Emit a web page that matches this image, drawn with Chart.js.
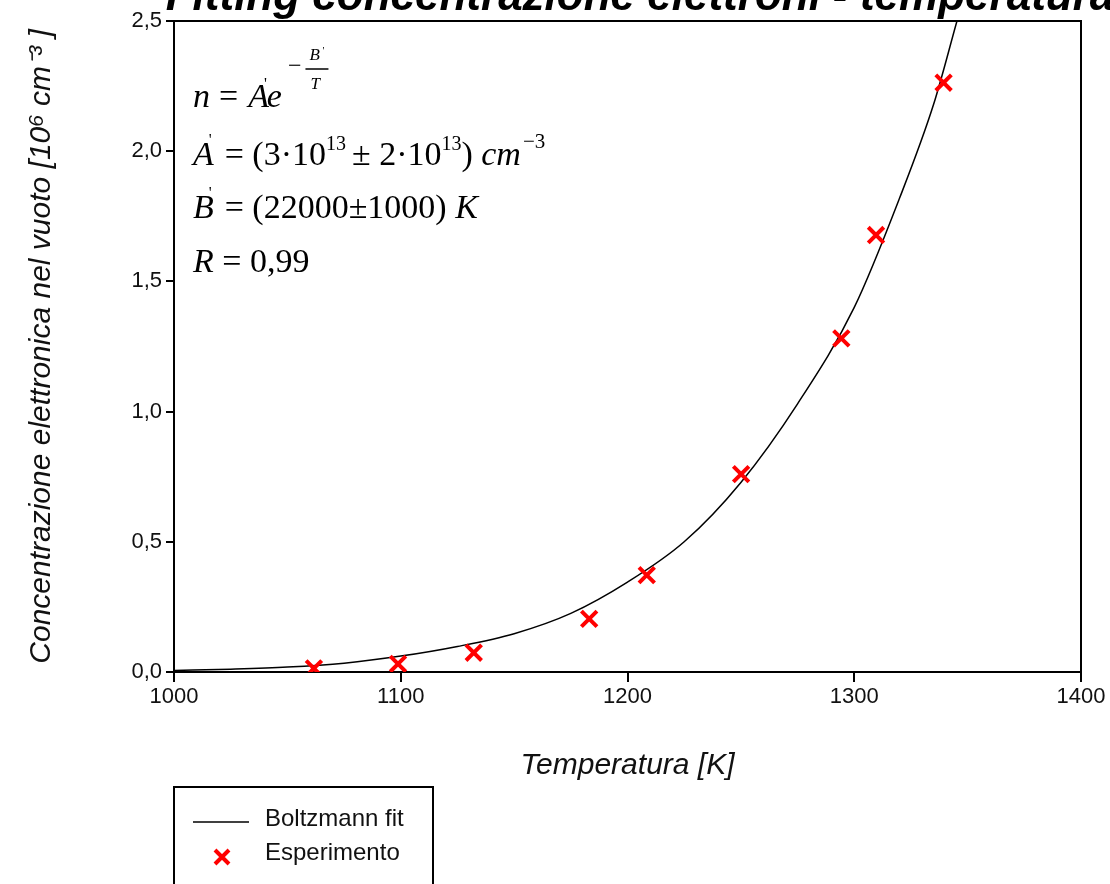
<!DOCTYPE html>
<html>
<head>
<meta charset="utf-8">
<script src="https://cdn.jsdelivr.net/npm/chart.js@4.4.1/dist/chart.umd.min.js"></script>
<style>
  html, body { margin: 0; padding: 0; background: #fff; overflow: hidden; }
  #wrap { width: 1110px; height: 884px; position: relative; }
</style>
</head>
<body>
<div id="wrap"><canvas id="chart" width="1110" height="884"></canvas></div>
<script>
const xTicks = [1000, 1100, 1200, 1300, 1400];
const yTicks = [0, 0.5, 1.0, 1.5, 2.0, 2.5];

// punti sperimentali: T [K], n [10^6 cm^-3]
const expT = [1061.7, 1098.8, 1132.2, 1183.1, 1208.5, 1250.1, 1294.3, 1309.6, 1339.4];
const expN = [0.014, 0.031, 0.074, 0.204, 0.372, 0.760, 1.281, 1.678, 2.263];

// curva di fit
const fitT = [1000, 1025, 1050, 1075, 1100, 1125, 1150, 1175, 1200, 1225, 1250, 1275, 1300, 1320, 1335, 1345.3];
const fitN = [0.006, 0.011, 0.019, 0.034, 0.061, 0.098, 0.147, 0.225, 0.345, 0.50, 0.728, 1.03, 1.40, 1.82, 2.18, 2.5];

const chartTitle = 'Fitting concentrazione elettroni - temperatura';
const xTitle = 'Temperatura [K]';
const yTitle = 'Concentrazione elettronica nel vuoto [10\u2076 cm\u207B\u00B3 ]';

const SANS = '"Liberation Sans", Arial, sans-serif';
const SERIF = '"Liberation Serif", "Times New Roman", serif';

function runs(c, x, y, list) {
    for (const r of list) {
        c.font = (r.i ? 'italic ' : '') + (r.s || 34) + 'px ' + SERIF;
        c.fillText(r.t, x, y + (r.dy || 0));
        x += c.measureText(r.t).width + (r.gap || 0);
    }
    return x;
}

const frame = {
    id: 'frame',
    afterDraw(chart) {
        const c = chart.ctx;
        const a = chart.chartArea;
        c.save();
        c.strokeStyle = '#000';
        c.lineWidth = 2;
        c.beginPath();
        c.moveTo(a.left, a.top);
        c.lineTo(a.right, a.top);
        c.lineTo(a.right, a.bottom);
        c.stroke();

        // titolo (tagliato in alto)
        c.fillStyle = '#000';
        c.font = 'italic bold 44px ' + SANS;
        c.textAlign = 'center';
        c.textBaseline = 'alphabetic';
        c.fillText(chartTitle, 640, 10);

        // formule
        c.textAlign = 'left';
        let x = 193, y = 107;
        x = runs(c, x, y, [{t: 'n', i: 1, gap: 9}, {t: '=', gap: 10}, {t: 'A', i: 1}]);
        x = runs(c, x - 5, y, [{t: '\'', s: 16, dy: -18}]);
        x = runs(c, x, y, [{t: 'e', i: 1}]);
        x = runs(c, x + 6, y, [{t: '\u2212', s: 24, dy: -34}]);
        c.font = 'italic 17px ' + SERIF;
        c.fillText('B', x + 8, y - 47);
        c.font = '11px ' + SERIF;
        c.fillText('\'', x + 21, y - 53);
        c.font = 'italic 17px ' + SERIF;
        c.fillText('T', x + 9, y - 18);
        c.lineWidth = 1.5;
        c.beginPath();
        c.moveTo(x + 4, y - 38);
        c.lineTo(x + 27, y - 38);
        c.stroke();

        y = 165; x = 193;
        x = runs(c, x, y, [{t: 'A', i: 1}]);
        x = runs(c, x - 5, y, [{t: '\'', s: 16, dy: -20}]);
        x = runs(c, x + 13, y, [{t: '= (3\u00B710'}]);
        x = runs(c, x, y, [{t: '13', s: 20, dy: -15}]);
        x = runs(c, x + 6, y, [{t: '\u00B1 2\u00B710'}]);
        x = runs(c, x, y, [{t: '13', s: 20, dy: -15}]);
        x = runs(c, x, y, [{t: ') '}, {t: 'cm', i: 1}]);
        runs(c, x + 2, y, [{t: '\u22123', s: 21, dy: -17}]);

        y = 218; x = 193;
        x = runs(c, x, y, [{t: 'B', i: 1}]);
        x = runs(c, x - 5, y, [{t: '\'', s: 16, dy: -20}]);
        runs(c, x + 13, y, [{t: '= (22000\u00B11000) '}, {t: 'K', i: 1}]);

        y = 272; x = 193;
        runs(c, x, y, [{t: 'R', i: 1}, {t: ' = 0,99'}]);

        // legenda
        c.strokeStyle = '#000';
        c.lineWidth = 2;
        c.strokeRect(174, 787, 259, 130);
        const ds = chart.data.datasets;
        c.lineWidth = 1.5;
        c.beginPath();
        c.moveTo(193, 822);
        c.lineTo(249, 822);
        c.stroke();
        c.strokeStyle = '#f00';
        c.lineWidth = 4;
        c.beginPath();
        c.moveTo(215, 850); c.lineTo(229, 864);
        c.moveTo(229, 850); c.lineTo(215, 864);
        c.stroke();
        c.fillStyle = '#111';
        c.font = '24px ' + SANS;
        c.textBaseline = 'middle';
        c.fillText(ds[0].label, 265, 819);
        c.fillText(ds[1].label, 265, 853);
        c.restore();
    }
};

const tickFont = {family: SANS, size: 22};

new Chart(document.getElementById('chart'), {
    type: 'scatter',
    data: {
        datasets: [{
            label: 'Boltzmann fit',
            data: fitT.map((t, i) => ({x: t, y: fitN[i]})),
            showLine: true,
            borderColor: '#000',
            borderWidth: 1.5,
            pointRadius: 0,
            cubicInterpolationMode: 'monotone',
            order: 2
        }, {
            label: 'Esperimento',
            data: expT.map((t, i) => ({x: t, y: expN[i]})),
            showLine: false,
            pointStyle: 'crossRot',
            pointRadius: 11,
            borderColor: '#f00',
            backgroundColor: '#f00',
            borderWidth: 4,
            order: 1
        }]
    },
    options: {
        responsive: false,
        animation: false,
        layout: {autoPadding: false, padding: {left: 0, right: 29, top: 21, bottom: 100}},
        plugins: {
            legend: {display: false},
            tooltip: {enabled: false}
        },
        scales: {
            x: {
                type: 'linear',
                min: 1000,
                max: 1400,
                afterBuildTicks: s => { s.ticks = xTicks.map(v => ({value: v})); },
                afterFit: s => { s.height = 112; },
                grid: {drawOnChartArea: false, color: '#000', lineWidth: 2, tickLength: 10},
                border: {color: '#000', width: 2},
                ticks: {color: '#111', font: tickFont, padding: 2, maxRotation: 0, callback: v => String(v)},
                title: {display: true, text: xTitle, color: '#111', font: {family: SANS, size: 30, style: 'italic'}, padding: 0}
            },
            y: {
                min: 0,
                max: 2.5,
                afterBuildTicks: s => { s.ticks = yTicks.map(v => ({value: v})); },
                afterFit: s => { s.width = 174; },
                grid: {drawOnChartArea: false, color: '#000', lineWidth: 2, tickLength: 8},
                border: {color: '#000', width: 2},
                ticks: {color: '#111', font: tickFont, padding: 4, callback: v => v.toFixed(1).replace('.', ',')},
                title: {display: true, text: yTitle, color: '#111', font: {family: SANS, size: 30, style: 'italic'}, padding: {top: 24, bottom: 0}}
            }
        }
    },
    plugins: [frame]
});
</script>
</body>
</html>
